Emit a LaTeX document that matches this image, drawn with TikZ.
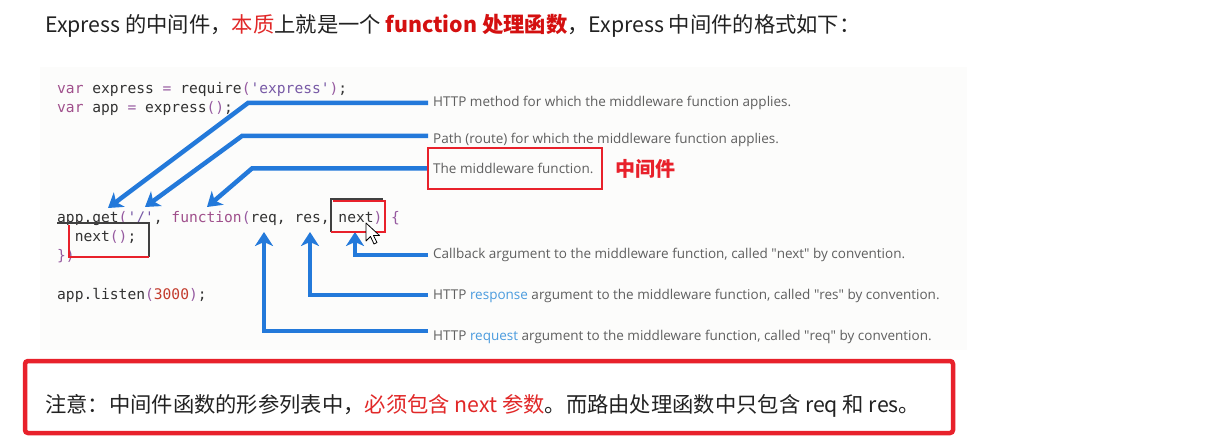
\documentclass[tikz,border=0pt]{standalone}
\usepackage{fontspec}
\setmainfont{Noto Sans CJK SC}
\newfontfamily\codefont{DejaVu Sans Mono}
\newfontfamily\notefont{Open Sans}
\usetikzlibrary{arrows.meta,positioning,calc}

\definecolor{ptrblue}{RGB}{35,121,218}
\definecolor{boxred}{RGB}{232,33,43}
\definecolor{hlred}{RGB}{225,40,40}
\definecolor{hldark}{RGB}{212,16,16}
\definecolor{inkgray}{RGB}{34,34,34}
\definecolor{notegray}{RGB}{95,95,95}
\definecolor{linkblue}{RGB}{74,155,222}
\definecolor{codegray}{RGB}{50,50,50}
\definecolor{kw}{RGB}{160,80,140}
\definecolor{str}{RGB}{120,90,166}
\definecolor{pn}{RGB}{150,90,160}
\definecolor{num}{RGB}{195,60,45}
\definecolor{panelgray}{RGB}{252,252,251}

\tikzset{
  code/.style={anchor=base west, inner sep=0pt, text=codegray, font=\codefont\fontsize{14.6}{17}\selectfont},
  note/.style={anchor=base west, inner sep=0pt, text=notegray, font=\notefont\fontsize{13.5}{16}\selectfont},
  head/.style={anchor=base west, inner sep=0pt, text=inkgray, font=\fontsize{21.3}{25}\selectfont},
  pointer/.style={draw=ptrblue, line width=4.5pt, -{Stealth[length=14pt,width=18pt,inset=4pt]}},
  markbox/.style={line width=1.5pt}
}

\begin{document}
\begin{tikzpicture}[x=1pt,y=-1pt]
\useasboundingbox (0,0) rectangle (1218,439);
\fill[white] (0,0) rectangle (1218,439);
\fill[panelgray] (40,67) rectangle (967,350);

% title line
\node[head] (title) at (45,32) {Express 的中间件，\textcolor{hlred}{本质}上就是一个 \textcolor{hldark}{\bfseries function 处理函数}，Express 中间件的格式如下：};

% code
\node[code] (req1) at (57,93) {\textcolor{kw}{var} express \textcolor{pn}{=} require\textcolor{pn}{(}\textcolor{str}{\textquotesingle express\textquotesingle}\textcolor{pn}{)};};
\node[code] (app1) at (57,112) {\textcolor{kw}{var} app \textcolor{pn}{=} express\textcolor{pn}{()};};
\node[code] (get) at (57,222) {app.get\textcolor{pn}{(}\textcolor{str}{\textquotesingle/\textquotesingle}, \textcolor{kw}{function}\textcolor{pn}{(}req, res, next\textcolor{pn}{)} \textcolor{pn}{\{}};
\node[code] (call) at (74.6,241) {next\textcolor{pn}{()};};
\node[code] (close) at (57,260) {\textcolor{pn}{\})}};
\node[code] (listen) at (57,299) {app.listen\textcolor{pn}{(}\textcolor{num}{3000}\textcolor{pn}{)};};

% notes
\node[note] (mth) at (433,106.5) {HTTP method for which the middleware function applies.};
\node[note] (pth) at (433,143.5) {Path (route) for which the middleware function applies.};
\node[note] (mwf) at (433,173.5) {The middleware function.};
\node[anchor=base west, inner sep=0pt, text=boxred, font=\fontsize{20}{24}\selectfont\bfseries] (mwcn) at (615,176) {中间件};
\node[note] (nxt) at (433,258.5) {Callback argument to the middleware function, called \textquotedbl next\textquotedbl\ by convention.};
\node[note] (rsp) at (433,299.5) {HTTP \textcolor{linkblue}{response} argument to the middleware function, called \textquotedbl res\textquotedbl\ by convention.};
\node[note] (rqs) at (433,340.5) {HTTP \textcolor{linkblue}{request} argument to the middleware function, called \textquotedbl req\textquotedbl\ by convention.};

% arrow tips
\coordinate (tget) at (108,208);
\coordinate (tpath) at (145,207);
\coordinate (tfunc) at (207,207);
\coordinate (tnext) at (355,232);
\coordinate (tres) at (310,232);
\coordinate (treq) at (264,232);

\draw[pointer] ($(mth.west)+(-5,0)$) -- ++(-180,0) -- (tget);
\draw[pointer] ($(pth.west)+(-5,-4)$) -- ++(-186,0) -- (tpath);
\draw[pointer] ($(mwf.west)+(-5,0)$) -- ++(-176,0) -- (tfunc);
\draw[pointer] ($(nxt.west)+(-5,0)$) -| (tnext);
\draw[pointer] ($(rsp.west)+(-5,-1)$) -| (tres);
\draw[pointer] ($(rqs.west)+(-5,-6)$) -| (treq);

% highlight boxes
\draw[markbox, boxred] (428,148) rectangle (602,189);
\draw[markbox, black!75] (331,232) -- (331,199) -- (383,199);
\draw[markbox, boxred] (333,201) -- (385,201) -- (385,232) -- (331,232);
\draw[markbox, black!75] (57,223) -- (149,223) -- (149,257);
\draw[markbox, boxred] (69,225) -- (69,257) -- (149,257);

% mouse pointer
\draw[black, line width=0.8pt, fill=white, line join=round]
  (366,223) -- (366,241) -- (370.5,236.5) -- (374,244) -- (377,242.5) -- (373.5,235.5) -- (379.5,235.5) -- cycle;

% note box
\draw[boxred, line width=4.5pt, rounded corners=3pt] (25,361) rectangle (953,433);
\node[head] (warn) at (45,412) {注意：中间件函数的形参列表中，\textcolor{hlred}{必须包含 next 参数}。而路由处理函数中只包含 req 和 res。};
\end{tikzpicture}
\end{document}
